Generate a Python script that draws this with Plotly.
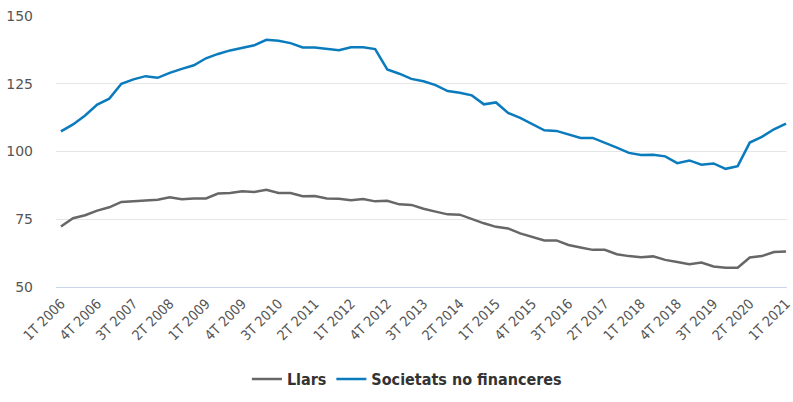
import plotly.graph_objects as go

quarters = [f"{q}T {y}" for y in range(2006, 2022) for q in (1, 2, 3, 4)][:61]

llars = [72.3, 75.4, 76.5, 78.2, 79.4, 81.4, 81.6, 82.0, 82.2, 83.1,
         82.4, 82.7, 82.7, 84.5, 84.7, 85.3, 85.1, 85.9, 84.7, 84.7,
         83.5, 83.6, 82.7, 82.6, 82.0, 82.5, 81.6, 81.8, 80.5, 80.3,
         78.9, 77.8, 76.8, 76.7, 75.0, 73.5, 72.2, 71.6, 69.8, 68.4,
         67.2, 67.2, 65.5, 64.6, 63.7, 63.7, 62.1, 61.4, 61.0, 61.3,
         60.0, 59.2, 58.4, 59.0, 57.6, 57.1, 57.1, 60.9, 61.4, 62.9,
         63.1]

societats = [107.4, 110.0, 113.3, 117.3, 119.5, 125.0, 126.6, 127.8, 127.2, 129.0,
             130.5, 131.8, 134.4, 136.0, 137.3, 138.2, 139.2, 141.2, 140.9, 140.0,
             138.4, 138.4, 138.0, 137.4, 138.5, 138.5, 137.8, 130.3, 128.7, 126.8,
             125.9, 124.5, 122.3, 121.7, 120.7, 117.4, 118.1, 114.2, 112.4, 110.0,
             107.8, 107.6, 106.2, 105.0, 105.0, 103.3, 101.4, 99.5, 98.7, 98.8,
             98.2, 95.7, 96.7, 95.1, 95.6, 93.6, 94.6, 103.3, 105.4, 108.2,
             110.3]

tick_labels = quarters[::3]
y_ticks = [50, 75, 100, 125, 150]

font_family = "Liberation Sans Narrow, DejaVu Sans Condensed, Arial Narrow, sans-serif"

fig = go.Figure()
fig.add_trace(go.Scatter(x=quarters, y=llars, mode="lines", name="Llars",
                         line=dict(color="#676767", width=2.5)))
fig.add_trace(go.Scatter(x=quarters, y=societats, mode="lines", name="Societats no financeres",
                         line=dict(color="#0a7bbd", width=2.5)))

fig.update_layout(
    width=793, height=402,
    margin=dict(l=56, r=0, t=16, b=115),
    plot_bgcolor="white", paper_bgcolor="white",
    showlegend=True,
    legend=dict(orientation="h", x=0.48, xanchor="center", y=-0.34, yanchor="middle",
                font=dict(family=font_family, size=16, color="#333333", weight="bold"),
                itemwidth=30, tracegroupgap=0),
    xaxis=dict(type="category", range=[-0.41, 60.08],
               tickvals=tick_labels, ticktext=tick_labels, tickangle=-45,
               tickfont=dict(family=font_family, size=14, color="#555555"),
               showgrid=False, showline=True, linecolor="#ccd6eb", linewidth=1,
               ticks="", ticklabelstandoff=2),
    yaxis=dict(range=[50, 150], tickvals=y_ticks, showgrid=True, gridcolor="#e6e6e6",
               gridwidth=1, zeroline=False, showline=False,
               tickfont=dict(family="DejaVu Sans, sans-serif", size=14, color="#555555"),
               ticklabelstandoff=22),
)

fig.write_html("out.html")
